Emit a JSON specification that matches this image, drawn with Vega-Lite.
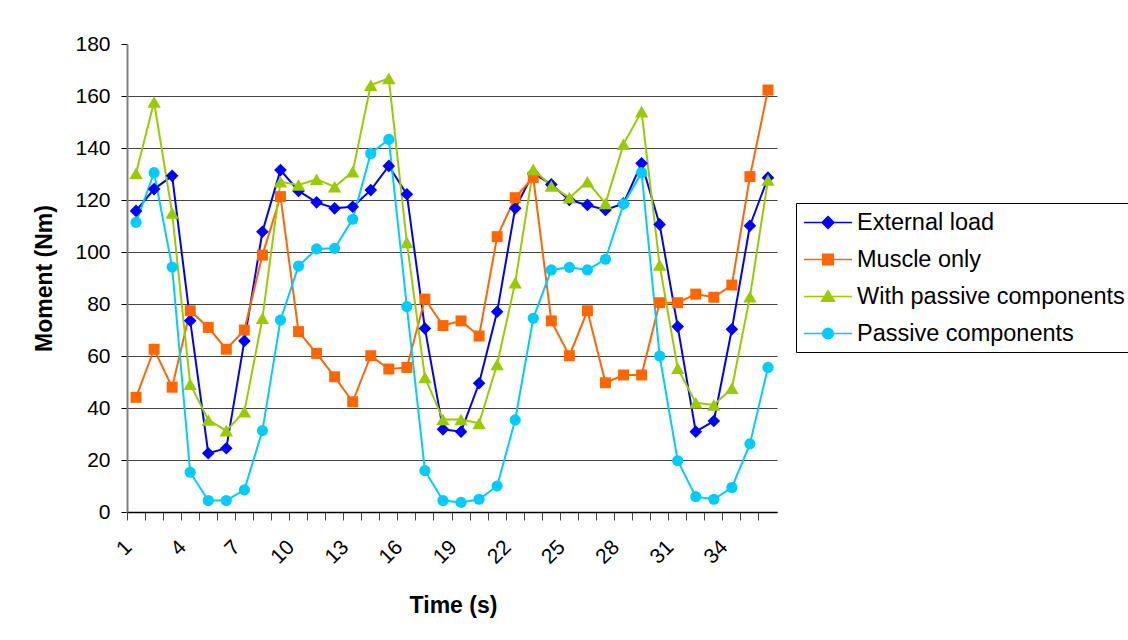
{
  "$schema": "https://vega.github.io/schema/vega-lite/v6.json",
  "width": 650,
  "height": 468,
  "autosize": {"type": "none"},
  "padding": {"left": 127, "top": 44, "right": 351, "bottom": 128},
  "background": "white",
  "config": {"view": {"stroke": null}, "font": "Liberation Sans"},
  "data": {
    "values": [
      {"t":1,"s":"External load","v":115.8},{"t":2,"s":"External load","v":124.2},{"t":3,"s":"External load","v":129.3},{"t":4,"s":"External load","v":73.6},{"t":5,"s":"External load","v":22.6},{"t":6,"s":"External load","v":24.5},{"t":7,"s":"External load","v":65.8},{"t":8,"s":"External load","v":107.8},{"t":9,"s":"External load","v":131.5},{"t":10,"s":"External load","v":123.5},{"t":11,"s":"External load","v":119.1},{"t":12,"s":"External load","v":116.8},{"t":13,"s":"External load","v":117.4},{"t":14,"s":"External load","v":123.8},{"t":15,"s":"External load","v":133.1},{"t":16,"s":"External load","v":122.2},{"t":17,"s":"External load","v":70.6},{"t":18,"s":"External load","v":31.8},{"t":19,"s":"External load","v":30.9},{"t":20,"s":"External load","v":49.5},{"t":21,"s":"External load","v":77},{"t":22,"s":"External load","v":116.8},{"t":23,"s":"External load","v":130.3},{"t":24,"s":"External load","v":126},{"t":25,"s":"External load","v":120},{"t":26,"s":"External load","v":118.1},{"t":27,"s":"External load","v":116.2},{"t":28,"s":"External load","v":118.7},{"t":29,"s":"External load","v":134.1},{"t":30,"s":"External load","v":110.6},{"t":31,"s":"External load","v":71.3},{"t":32,"s":"External load","v":30.9},{"t":33,"s":"External load","v":35},{"t":34,"s":"External load","v":70.3},{"t":35,"s":"External load","v":110.1},{"t":36,"s":"External load","v":128.6},
      {"t":1,"s":"Muscle only","v":44.1},{"t":2,"s":"Muscle only","v":62.6},{"t":3,"s":"Muscle only","v":48},{"t":4,"s":"Muscle only","v":77.4},{"t":5,"s":"Muscle only","v":71},{"t":6,"s":"Muscle only","v":62.6},{"t":7,"s":"Muscle only","v":70},{"t":8,"s":"Muscle only","v":98.8},{"t":9,"s":"Muscle only","v":121.3},{"t":10,"s":"Muscle only","v":69.4},{"t":11,"s":"Muscle only","v":61},{"t":12,"s":"Muscle only","v":52},{"t":13,"s":"Muscle only","v":42.4},{"t":14,"s":"Muscle only","v":60.1},{"t":15,"s":"Muscle only","v":55},{"t":16,"s":"Muscle only","v":55.6},{"t":17,"s":"Muscle only","v":81.9},{"t":18,"s":"Muscle only","v":71.7},{"t":19,"s":"Muscle only","v":73.5},{"t":20,"s":"Muscle only","v":67.7},{"t":21,"s":"Muscle only","v":105.9},{"t":22,"s":"Muscle only","v":120.9},{"t":23,"s":"Muscle only","v":128.7},{"t":24,"s":"Muscle only","v":73.5},{"t":25,"s":"Muscle only","v":60.1},{"t":26,"s":"Muscle only","v":77.4},{"t":27,"s":"Muscle only","v":49.7},{"t":28,"s":"Muscle only","v":52.7},{"t":29,"s":"Muscle only","v":52.7},{"t":30,"s":"Muscle only","v":80.5},{"t":31,"s":"Muscle only","v":80.5},{"t":32,"s":"Muscle only","v":83.8},{"t":33,"s":"Muscle only","v":82.6},{"t":34,"s":"Muscle only","v":87.3},{"t":35,"s":"Muscle only","v":129},{"t":36,"s":"Muscle only","v":162.3},
      {"t":1,"s":"With passive components","v":130.3},{"t":2,"s":"With passive components","v":157.7},{"t":3,"s":"With passive components","v":115},{"t":4,"s":"With passive components","v":49.2},{"t":5,"s":"With passive components","v":35.4},{"t":6,"s":"With passive components","v":31.3},{"t":7,"s":"With passive components","v":38.6},{"t":8,"s":"With passive components","v":74.5},{"t":9,"s":"With passive components","v":127},{"t":10,"s":"With passive components","v":125.8},{"t":11,"s":"With passive components","v":128},{"t":12,"s":"With passive components","v":125.1},{"t":13,"s":"With passive components","v":130.9},{"t":14,"s":"With passive components","v":164.2},{"t":15,"s":"With passive components","v":166.8},{"t":16,"s":"With passive components","v":103.7},{"t":17,"s":"With passive components","v":51.8},{"t":18,"s":"With passive components","v":35.6},{"t":19,"s":"With passive components","v":35.6},{"t":20,"s":"With passive components","v":34.1},{"t":21,"s":"With passive components","v":56.8},{"t":22,"s":"With passive components","v":88.2},{"t":23,"s":"With passive components","v":131.8},{"t":24,"s":"With passive components","v":125.4},{"t":25,"s":"With passive components","v":120.9},{"t":26,"s":"With passive components","v":127},{"t":27,"s":"With passive components","v":118.7},{"t":28,"s":"With passive components","v":141.5},{"t":29,"s":"With passive components","v":154},{"t":30,"s":"With passive components","v":95},{"t":31,"s":"With passive components","v":55.3},{"t":32,"s":"With passive components","v":42},{"t":33,"s":"With passive components","v":41.2},{"t":34,"s":"With passive components","v":47.6},{"t":35,"s":"With passive components","v":82.8},{"t":36,"s":"With passive components","v":127.7},
      {"t":1,"s":"Passive components","v":111.4},{"t":2,"s":"Passive components","v":130.5},{"t":3,"s":"Passive components","v":94.2},{"t":4,"s":"Passive components","v":15.3},{"t":5,"s":"Passive components","v":4.4},{"t":6,"s":"Passive components","v":4.4},{"t":7,"s":"Passive components","v":8.5},{"t":8,"s":"Passive components","v":31.3},{"t":9,"s":"Passive components","v":73.8},{"t":10,"s":"Passive components","v":94.6},{"t":11,"s":"Passive components","v":101.2},{"t":12,"s":"Passive components","v":101.4},{"t":13,"s":"Passive components","v":112.6},{"t":14,"s":"Passive components","v":137.9},{"t":15,"s":"Passive components","v":143.3},{"t":16,"s":"Passive components","v":79},{"t":17,"s":"Passive components","v":15.9},{"t":18,"s":"Passive components","v":4.4},{"t":19,"s":"Passive components","v":3.7},{"t":20,"s":"Passive components","v":4.9},{"t":21,"s":"Passive components","v":10},{"t":22,"s":"Passive components","v":35.4},{"t":23,"s":"Passive components","v":74.5},{"t":24,"s":"Passive components","v":93.1},{"t":25,"s":"Passive components","v":94.1},{"t":26,"s":"Passive components","v":93.1},{"t":27,"s":"Passive components","v":97.2},{"t":28,"s":"Passive components","v":118.5},{"t":29,"s":"Passive components","v":130.5},{"t":30,"s":"Passive components","v":60},{"t":31,"s":"Passive components","v":19.7},{"t":32,"s":"Passive components","v":5.9},{"t":33,"s":"Passive components","v":4.9},{"t":34,"s":"Passive components","v":9.4},{"t":35,"s":"Passive components","v":26.2},{"t":36,"s":"Passive components","v":55.6}
    ]
  },
  "encoding": {
    "x": {
      "field": "t",
      "type": "ordinal",
      "sort": null,
      "scale": {"type": "band", "paddingInner": 0, "paddingOuter": 0},
      "axis": {
        "bandPosition": 0,
        "labelAngle": -45,
        "labelExpr": "(datum.value - 1) % 3 === 0 ? datum.label : ''",
        "labelOverlap": false,
        "labelOffset": -15,
        "labelFont": "Liberation Sans",
        "labelFontSize": 21,
        "labelColor": "black",
        "labelPadding": 16,
        "tickSize": 8,
        "tickColor": "#444444",
        "tickWidth": 1,
        "domainColor": "black",
        "domainWidth": 1.5,
        "grid": false,
        "title": "Time (s)",
        "titleFont": "Liberation Sans",
        "titleFontSize": 23,
        "titleFontWeight": "bold",
        "titleColor": "black",
        "titleX": 326,
        "titleY": 93,
        "titleAlign": "center",
        "titleBaseline": "middle"
      }
    },
    "y": {
      "field": "v",
      "type": "quantitative",
      "scale": {"domain": [0, 180], "nice": false},
      "axis": {
        "values": [0, 20, 40, 60, 80, 100, 120, 140, 160, 180],
        "labelFont": "Liberation Sans",
        "labelFontSize": 21,
        "labelColor": "black",
        "labelPadding": 11,
        "tickSize": 6,
        "tickColor": "black",
        "tickWidth": 1,
        "domainColor": "#808080",
        "domainWidth": 2,
        "gridColor": "#444444",
        "gridWidth": 1,
        "gridOpacity": {"condition": {"test": "datum.value === 180", "value": 0}, "value": 1},
        "title": "Moment (Nm)",
        "titleFont": "Liberation Sans",
        "titleFontSize": 23,
        "titleFontWeight": "bold",
        "titleColor": "black",
        "titleAngle": 270,
        "titleX": -83,
        "titleY": 234,
        "titleAlign": "center",
        "titleBaseline": "middle"
      }
    },
    "color": {
      "field": "s",
      "type": "nominal",
      "scale": {
        "domain": ["External load", "Muscle only", "With passive components", "Passive components"],
        "range": ["#0000FF", "#FF6600", "#99CC00", "#00CCFF"]
      },
      "legend": {
        "title": null,
        "orient": "none",
        "legendX": 669,
        "legendY": 159,
        "strokeColor": "black",
        "fillColor": "white",
        "padding": 7,
        "labelFont": "Liberation Sans",
        "labelFontSize": 23.5,
        "labelColor": "black",
        "labelLimit": 400,
        "labelOffset": 16.5,
        "symbolOffset": 12.5,
        "rowPadding": 13,
        "symbolSize": 529,
        "symbolOpacity": 1,
        "symbolStrokeWidth": 1.5,
        "symbolType": {"expr": "datum.value === 'External load' ? 'M-2.09,0H2.09M0,-0.52L0.52,0L0,0.52L-0.52,0Z' : datum.value === 'Muscle only' ? 'M-2.09,0H2.09M-0.46,-0.46H0.46V0.46H-0.46Z' : datum.value === 'With passive components' ? 'M-2.09,0H2.09M0,-0.5L0.56,0.42H-0.56Z' : 'M-2.09,0H2.09M0.46,0A0.46,0.46,0,1,1,-0.46,0A0.46,0.46,0,1,1,0.46,0Z'"},
        "symbolFillColor": {"expr": "scale('color', datum.value)"},
        "symbolStrokeColor": {"expr": "scale('color', datum.value)"}
      }
    }
  },
  "layer": [
    {"mark": {"type": "line", "strokeWidth": 2}},
    {
      "transform": [{"filter": "datum.s === 'External load'"}],
      "mark": {"type": "point", "shape": "diamond", "size": 160, "filled": true, "opacity": 1, "strokeWidth": 0}
    },
    {
      "transform": [{"filter": "datum.s === 'Muscle only'"}],
      "mark": {"type": "point", "shape": "square", "size": 120, "filled": true, "opacity": 1, "strokeWidth": 0}
    },
    {
      "transform": [{"filter": "datum.s === 'With passive components'"}],
      "mark": {"type": "point", "shape": "triangle-up", "size": 180, "filled": true, "opacity": 1, "strokeWidth": 0}
    },
    {
      "transform": [{"filter": "datum.s === 'Passive components'"}],
      "mark": {"type": "point", "shape": "circle", "size": 125, "filled": true, "opacity": 1, "strokeWidth": 0}
    }
  ]
}
